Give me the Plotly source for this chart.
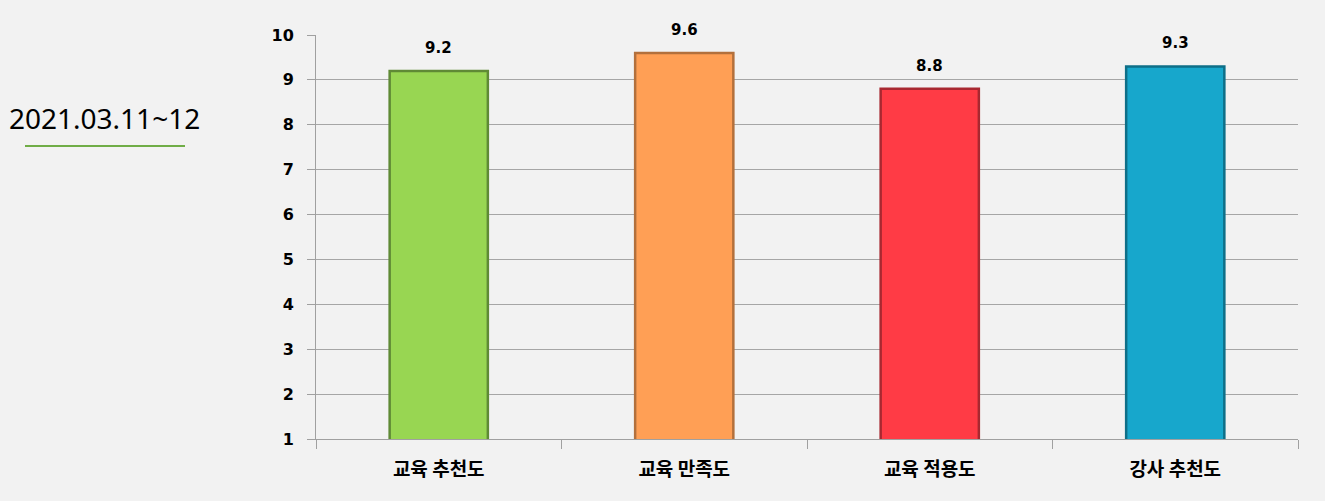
import plotly.graph_objects as go

categories = ["교육 추천도", "교육 만족도", "교육 적용도", "강사 추천도"]
values = [9.2, 9.6, 8.8, 9.3]
labels = ["9.2", "9.6", "8.8", "9.3"]
colors = ["#98d652", "#ff9f55", "#ff3b45", "#17a7cc"]
edge_colors = ["#5f8a35", "#b3703c", "#a82830", "#0e6f88"]
y_ticks = [1, 2, 3, 4, 5, 6, 7, 8, 9, 10]

font_family = "Noto Sans CJK KR, Noto Sans, sans-serif"
num_font = "DejaVu Sans, sans-serif"

fig = go.Figure()
fig.add_trace(go.Bar(
    x=categories, y=values,
    marker=dict(color=colors, line=dict(color=edge_colors, width=2.5)),
    width=0.4,
    hoverinfo="x+y",
))

for cat, val, lab in zip(categories, values, labels):
    fig.add_annotation(
        x=cat, y=val, text=lab, showarrow=False, yshift=23,
        xanchor="center", yanchor="middle",
        font=dict(family=num_font, size=15, color="#000000", weight="bold"),
    )

fig.update_layout(
    width=1325, height=501,
    paper_bgcolor="#f2f2f2", plot_bgcolor="#f2f2f2",
    margin=dict(l=316, r=27, t=35, b=62),
    showlegend=False,
    xaxis=dict(
        showgrid=False, showline=True, linecolor="#a0a0a0", linewidth=1,
        ticks="outside", tickson="boundaries", ticklen=9, tickcolor="#a0a0a0",
        tickfont=dict(family=font_family, size=19, color="#000000", weight="bold"),
        ticklabelstandoff=13,
    ),
    yaxis=dict(
        range=[1, 10], tickvals=y_ticks, showgrid=True, gridcolor="#a6a6a6",
        showline=True, linecolor="#a0a0a0", linewidth=1,
        ticks="outside", ticklen=8, tickcolor="#a0a0a0",
        tickfont=dict(family=num_font, size=16, color="#000000", weight="bold"),
        ticklabelstandoff=10, zeroline=False,
    ),
)

fig.add_annotation(
    text="2021.03.11~12", xref="paper", yref="paper",
    x=(104 - 316) / 982, y=(439 - 118) / 404, showarrow=False,
    xanchor="center", yanchor="middle",
    font=dict(family="Noto Sans, sans-serif", size=28, color="#000000"),
)
fig.add_shape(
    type="line", xref="paper", yref="paper",
    x0=(25 - 316) / 982, x1=(185 - 316) / 982, y0=(439 - 146) / 404, y1=(439 - 146) / 404,
    line=dict(color="#70ad47", width=2),
)
fig.write_html(
    "out.html",
    config={"displayModeBar": False},
    post_script="document.body.style.margin='0';document.body.style.background='#f2f2f2';",
)
